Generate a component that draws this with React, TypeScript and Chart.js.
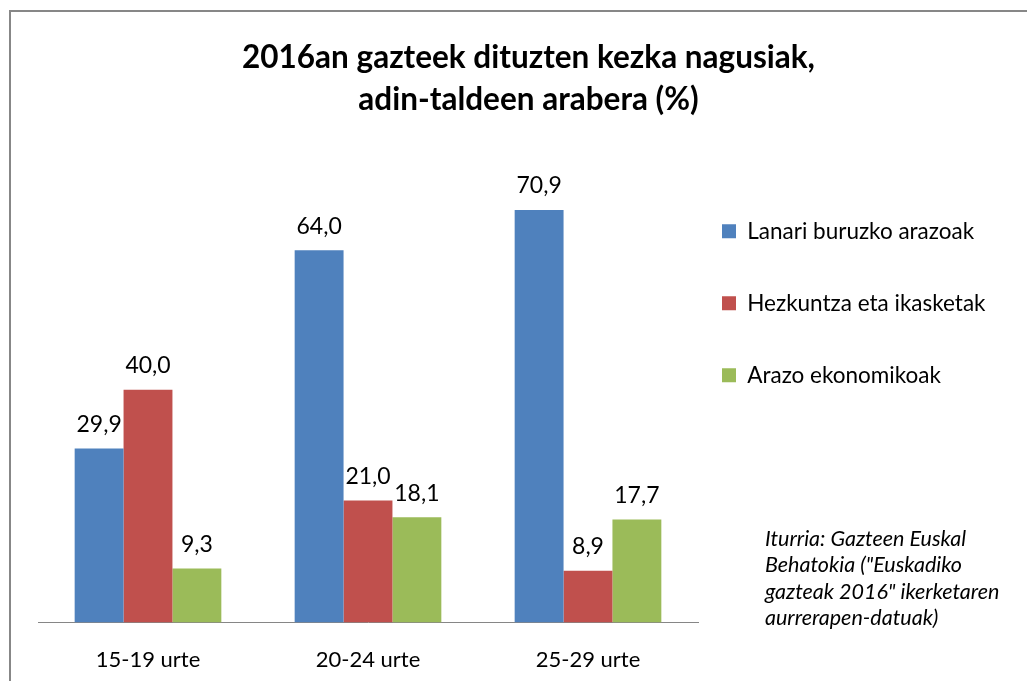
import React, { useEffect, useRef } from 'react';
import { Chart, registerables } from 'chart.js';

Chart.register(...registerables);

const TITLE_LINES = ['2016an gazteek dituzten kezka nagusiak,', 'adin-taldeen arabera (%)'];
const CATEGORIES = ['15-19 urte', '20-24 urte', '25-29 urte'];
const SERIES_NAMES = ['Lanari buruzko arazoak', 'Hezkuntza eta ikasketak', 'Arazo ekonomikoak'];
const LANARI = [29.9, 64.0, 70.9];
const HEZKUNTZA = [40.0, 21.0, 8.9];
const ARAZO = [9.3, 18.1, 17.7];
const SERIES_COLORS = ['#4F81BD', '#C0504D', '#9BBB59'];
const NOTE_LINES = [
  'Iturria: Gazteen Euskal',
  'Behatokia ("Euskadiko',
  'gazteak 2016" ikerketaren',
  'aurrerapen-datuak)',
];
const Y_MAX = 73.3;

const FONT = 'Lato';

const legendWidthPlugin = {
  id: 'legendWidth',
  beforeLayout(chart: any) {
    const lg = chart.legend;
    if (lg && !lg.__wrapped) {
      const orig = lg.fit.bind(lg);
      lg.fit = () => {
        orig();
        lg.width = 321;
      };
      lg.__wrapped = true;
    }
  },
};

const valueLabelsPlugin = {
  id: 'valueLabels',
  afterDatasetsDraw(chart: any) {
    const ctx = chart.ctx;
    ctx.save();
    ctx.font = `23px ${FONT}`;
    ctx.fillStyle = '#000';
    ctx.textAlign = 'center';
    ctx.textBaseline = 'middle';
    chart.data.datasets.forEach((ds: any, i: number) => {
      const meta = chart.getDatasetMeta(i);
      meta.data.forEach((bar: any, j: number) => {
        const v = ds.data[j] as number;
        ctx.fillText(v.toFixed(1).replace('.', ','), bar.x, bar.y - 24);
      });
    });
    ctx.restore();
  },
};

const notePlugin = {
  id: 'note',
  afterDraw(chart: any) {
    const ctx = chart.ctx;
    ctx.save();
    ctx.font = `italic 21.5px ${FONT}`;
    ctx.fillStyle = '#000';
    ctx.textAlign = 'left';
    ctx.textBaseline = 'middle';
    NOTE_LINES.forEach((line, i) => {
      ctx.fillText(line, 765, 539 + i * 26.5);
    });
    ctx.restore();
  },
};

function App() {
  const ref = useRef<HTMLCanvasElement | null>(null);

  useEffect(() => {
    if (!ref.current) return;
    const chart = new Chart(ref.current, {
      type: 'bar',
      data: {
        labels: CATEGORIES,
        datasets: [
          { label: SERIES_NAMES[0], data: LANARI, backgroundColor: SERIES_COLORS[0] },
          { label: SERIES_NAMES[1], data: HEZKUNTZA, backgroundColor: SERIES_COLORS[1] },
          { label: SERIES_NAMES[2], data: ARAZO, backgroundColor: SERIES_COLORS[2] },
        ],
      },
      options: {
        responsive: false,
        animation: false,
        devicePixelRatio: 1,
        layout: { padding: { left: 38, right: 8, top: 0, bottom: -16 } },
        datasets: { bar: { categoryPercentage: 2 / 3, barPercentage: 1 } },
        plugins: {
          title: {
            display: true,
            text: TITLE_LINES,
            color: '#000',
            font: { family: FONT, size: 31.5, weight: 'bold', lineHeight: 42 / 31.5 },
            padding: { top: 37, bottom: 75 },
          },
          legend: {
            position: 'right',
            align: 'start',
            fullSize: false,
            labels: {
              color: '#000',
              font: { family: FONT, size: 22.5, lineHeight: 48 / 22.5 },
              boxWidth: 14,
              boxHeight: 14,
              padding: 24,
              generateLabels: (chart: any) =>
                chart.data.datasets.map((ds: any, i: number) => ({
                  text: [ds.label],
                  fillStyle: ds.backgroundColor,
                  strokeStyle: ds.backgroundColor,
                  lineWidth: 0,
                  hidden: false,
                  datasetIndex: i,
                  fontColor: '#000',
                })),
            },
          },
          tooltip: { enabled: false },
        },
        scales: {
          x: {
            grid: { display: false, drawTicks: false },
            border: { display: true, color: '#868686', width: 1 },
            ticks: { color: '#000', font: { family: FONT, size: 22 }, padding: 24 },
          },
          y: { display: false, min: 0, max: Y_MAX },
        },
      } as any,
      plugins: [legendWidthPlugin, valueLabelsPlugin, notePlugin],
    });
    return () => chart.destroy();
  }, []);

  return (
    <div
      style={{
        position: 'fixed',
        left: 0,
        top: 0,
        width: 1027,
        height: 681,
        overflow: 'hidden',
        background: '#fff',
      }}
    >
      <div
        style={{
          position: 'absolute',
          left: 9,
          top: 10,
          width: 1200,
          height: 900,
          border: '2px solid #878787',
          boxSizing: 'border-box',
        }}
      />
      <canvas
        ref={ref}
        width={1027}
        height={681}
        style={{ position: 'absolute', left: 0, top: 0, width: 1027, height: 681 }}
      />
    </div>
  );
}

export default App;
